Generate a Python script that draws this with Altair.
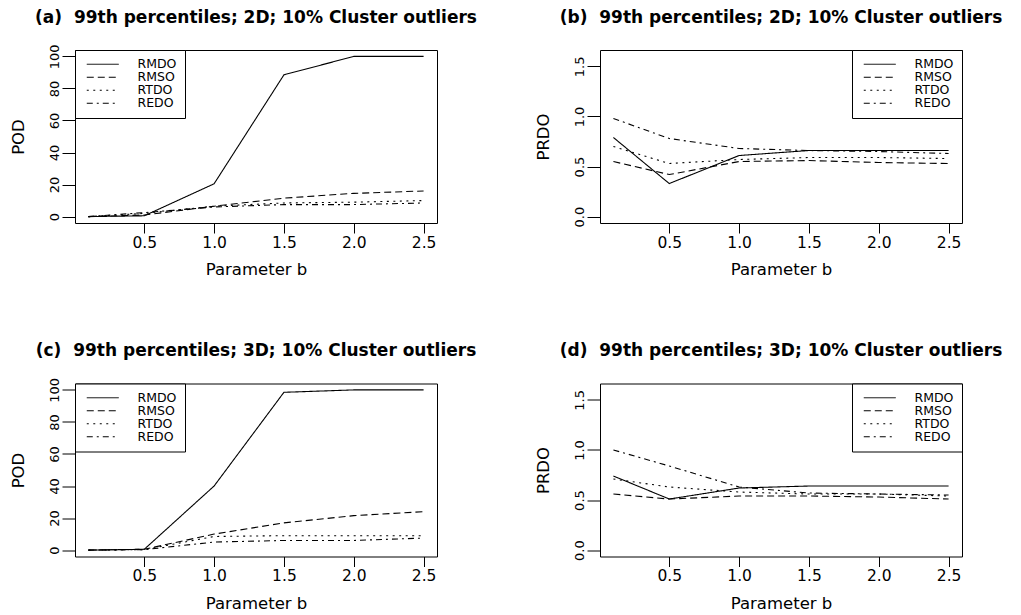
import altair as alt
import pandas as pd

b_values = [0.1, 0.5, 1.0, 1.5, 2.0, 2.5]
methods = ["RMDO", "RMSO", "RTDO", "REDO"]

# (a) POD, 2D
a_RMDO = [0, 0.5, 20.5, 88.5, 100, 100]
a_RMSO = [0, 1.0, 6.5, 11.5, 14.5, 16]
a_RTDO = [0, 2.0, 6.5, 8.5, 9.0, 10.0]
a_REDO = [0, 2.5, 6.0, 7.5, 7.5, 8.5]
# (b) PRDO, 2D
b_RMDO = [0.79, 0.33, 0.61, 0.66, 0.66, 0.66]
b_RMSO = [0.55, 0.42, 0.55, 0.56, 0.54, 0.53]
b_RTDO = [0.70, 0.53, 0.57, 0.59, 0.59, 0.58]
b_REDO = [0.98, 0.78, 0.68, 0.66, 0.65, 0.63]
# (c) POD, 3D
c_RMDO = [0, 0.5, 40, 98.5, 100, 100]
c_RMSO = [0, 0.5, 10, 17, 21.5, 24]
c_RTDO = [0, 0.3, 8.5, 9, 9, 9]
c_REDO = [0, 0.3, 5, 6, 6, 7.5]
# (d) PRDO, 3D
d_RMDO = [0.74, 0.51, 0.62, 0.64, 0.64, 0.64]
d_RMSO = [0.56, 0.51, 0.54, 0.54, 0.53, 0.51]
d_RTDO = [0.71, 0.63, 0.58, 0.56, 0.56, 0.54]
d_REDO = [1.00, 0.84, 0.63, 0.57, 0.56, 0.55]

titles = [
    "(a)\u00a0 99th percentiles; 2D; 10% Cluster outliers",
    "(b)\u00a0 99th percentiles; 2D; 10% Cluster outliers",
    "(c)\u00a0 99th percentiles; 3D; 10% Cluster outliers",
    "(d)\u00a0 99th percentiles; 3D; 10% Cluster outliers",
]

FONT = "DejaVu Sans"
W, H = 362, 173


def frame(series):
    rows = []
    for m, vals in zip(methods, series):
        for b, v in zip(b_values, vals):
            rows.append({"b": b, "value": v, "method": m})
    return pd.DataFrame(rows)


def panel(series, title, ytitle, ydomain, yvalues, yfmt, legend_orient, toff):
    df = frame(series)
    return (
        alt.Chart(df)
        .mark_line(color="black", strokeWidth=1.1)
        .encode(
            x=alt.X(
                "b:Q",
                title="Parameter b",
                scale=alt.Scale(domain=[0.004, 2.596], nice=False, zero=False),
                axis=alt.Axis(values=[0.5, 1.0, 1.5, 2.0, 2.5], format=".1f",
                              grid=False, domain=False,
                              tickSize=10, labelFontSize=15.5, labelPadding=2,
                              titlePadding=11),
            ),
            y=alt.Y(
                "value:Q",
                title=ytitle,
                scale=alt.Scale(domain=ydomain, nice=False, zero=False),
                axis=alt.Axis(values=yvalues, format=yfmt, tickSize=13,
                              grid=False, domain=False,
                              labelAngle=270, labelAlign="center",
                              labelBaseline="bottom", labelFontSize=13,
                              labelPadding=1, titlePadding=22),
            ),
            strokeDash=alt.StrokeDash(
                "method:N",
                scale=alt.Scale(domain=methods,
                                range=[[1, 0], [7, 4], [2, 4.5], [6, 4, 2, 4]]),
                legend=alt.Legend(
                    title=None,
                    orient=legend_orient,
                    offset=0,
                    padding=8,
                    strokeColor="black",
                    fillColor="white",
                    symbolType="M-0.45,0H5.36",
                    symbolSize=121,
                    symbolStrokeWidth=1,
                    symbolStrokeColor="black",
                    symbolFillColor="transparent",
                    labelFont=FONT,
                    labelFontSize=12.5,
                    labelColor="black",
                    labelOffset=42,
                    rowPadding=0,
                ),
            ),
            order=alt.Order("b:Q"),
        )
        .properties(
            width=W,
            height=H,
            title=alt.TitleParams(
                title, font=FONT, fontSize=17, fontWeight="bold",
                anchor="middle", frame="group", offset=toff,
                baseline="alphabetic", color="black",
            ),
        )
    )


pa = panel([a_RMDO, a_RMSO, a_RTDO, a_REDO], titles[0], "POD", [-4, 104],
           [0, 20, 40, 60, 80, 100], "d", "top-left", 4.5)
pb = panel([b_RMDO, b_RMSO, b_RTDO, b_REDO], titles[1], "PRDO", [-0.064, 1.664],
           [0.0, 0.5, 1.0, 1.5], ".1f", "top-right", 10)
pc = panel([c_RMDO, c_RMSO, c_RTDO, c_REDO], titles[2], "POD", [-4, 104],
           [0, 20, 40, 60, 80, 100], "d", "top-left", 4.5)
pd_ = panel([d_RMDO, d_RMSO, d_RTDO, d_REDO], titles[3], "PRDO", [-0.064, 1.664],
            [0.0, 0.5, 1.0, 1.5], ".1f", "top-right", 10)

chart = (
    alt.concat(pa, pb, pc, pd_, columns=2, spacing={"row": 160.5, "column": 163},
               bounds="flush")
    .resolve_scale(strokeDash="independent")
    .resolve_legend(strokeDash="independent")
    .properties(padding={"left": 1, "top": 0, "right": 0, "bottom": 0},
                background="white")
    .configure_view(stroke="black", strokeWidth=1)
    .configure_axis(
        grid=False, domain=False, tickColor="black", tickWidth=1,
        labelFont=FONT, labelColor="black", titleFont=FONT, titleFontSize=16.5,
        titleFontWeight="normal", titleColor="black",
    )
)

chart.save("out.html", embed_options={"renderer": "svg", "actions": False})
